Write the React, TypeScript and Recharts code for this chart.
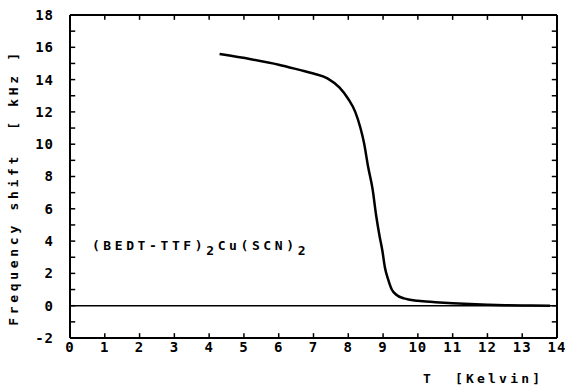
import React from 'react';
import { LineChart, Line, XAxis, YAxis, ReferenceLine, ReferenceDot, Label } from 'recharts';

const temperature = [4.3, 5.2, 6.0, 6.6, 7.0, 7.4, 7.75, 8.0, 8.2, 8.35, 8.45, 8.57, 8.7, 8.8, 8.9, 8.98, 9.05, 9.15, 9.25, 9.4, 9.6, 10.0, 10.5, 11.0, 11.5, 12.0, 12.5, 13.0, 13.8];
const shift = [15.58, 15.26, 14.92, 14.6, 14.38, 14.08, 13.5, 12.8, 12.0, 11.0, 10.1, 8.6, 7.2, 5.6, 4.3, 3.4, 2.4, 1.6, 1.0, 0.65, 0.45, 0.3, 0.22, 0.15, 0.1, 0.06, 0.03, 0.01, 0.0];

const xTicks = [0, 1, 2, 3, 4, 5, 6, 7, 8, 9, 10, 11, 12, 13, 14];
const yLabelTicks = [-2, 0, 2, 4, 6, 8, 10, 12, 14, 16, 18];
const yMinorTicks = [-2, -1, 0, 1, 2, 3, 4, 5, 6, 7, 8, 9, 10, 11, 12, 13, 14, 15, 16, 17, 18];

const X_MIN = 0;
const X_MAX = 14;
const Y_MIN = -2;
const Y_MAX = 18;

const data = temperature.map((t, i) => ({ t, v: shift[i] }));

// inward tick lengths expressed in data units
const X_TICK_LEN = 0.3;
const Y_TICK_LEN = 0.15;

const FONT = '"DejaVu Sans Mono", monospace';
const tickStyle = { fontFamily: FONT, fontSize: 14, fontWeight: 'bold', fill: '#000', letterSpacing: 1 };

const AnnotationLabel = (props: any) => {
  const { viewBox } = props;
  return (
    <text x={viewBox.x} y={viewBox.y} fontFamily={FONT} fontSize={13} fontWeight="bold" fill="#000" letterSpacing={3.6}>
      (BEDT-TTF)
      <tspan dy={5}>2</tspan>
      <tspan dy={-5}>Cu(SCN)</tspan>
      <tspan dy={5}>2</tspan>
    </text>
  );
};

const YTitle = (props: any) => {
  const { viewBox } = props;
  const cx = viewBox.x + 13;
  const cy = viewBox.y + viewBox.height / 2 + 11;
  return (
    <text
      x={cx}
      y={cy}
      transform={`rotate(-90 ${cx} ${cy})`}
      textAnchor="middle"
      dominantBaseline="central"
      fontFamily={FONT}
      fontSize={13}
      fontWeight="bold"
      fill="#000"
      letterSpacing={3.7}
      xmlSpace="preserve"
    >
      Frequency shift  [ kHz ]
    </text>
  );
};

const XTitle = (props: any) => {
  const { viewBox } = props;
  const right = viewBox.x + viewBox.width;
  const y = viewBox.y + viewBox.height - 6;
  return (
    <text y={y} fontFamily={FONT} fontSize={13} fontWeight="bold" fill="#000" letterSpacing={3.2}>
      <tspan x={right - 134}>T</tspan>
      <tspan x={right - 102}>[Kelvin]</tspan>
    </text>
  );
};

const tickLineStroke = { stroke: '#000', strokeWidth: 1.5 };
const axisLineStyle = { stroke: '#000', strokeWidth: 2 };

export default function App() {
  return (
    <div style={{ position: 'absolute', left: 0, top: 0, width: 565, height: 389, background: '#fff' }}>
      <LineChart width={565} height={389} data={data} margin={{ top: 15, right: 8, bottom: 0, left: 0 }}>
        <XAxis
          xAxisId="b"
          dataKey="t"
          type="number"
          domain={[X_MIN, X_MAX]}
          ticks={xTicks}
          orientation="bottom"
          height={51}
          tickLine={false}
          tickSize={4}
          axisLine={axisLineStyle}
          tick={tickStyle}
          tickMargin={0}
          interval={0}
          allowDataOverflow
        >
          <Label content={XTitle} />
        </XAxis>
        <YAxis
          yAxisId="l"
          type="number"
          domain={[Y_MIN, Y_MAX]}
          ticks={yLabelTicks}
          width={70}
          tickLine={false}
          axisLine={axisLineStyle}
          tick={tickStyle}
          tickMargin={10}
          interval={0}
          allowDataOverflow
        >
          <Label content={YTitle} />
        </YAxis>
        <ReferenceLine xAxisId="b" yAxisId="l" y={Y_MAX} stroke="#000" strokeWidth={2} />
        <ReferenceLine xAxisId="b" yAxisId="l" x={X_MAX} stroke="#000" strokeWidth={2} />
        {xTicks.map((t) => (
          <ReferenceLine
            key={`xb${t}`}
            xAxisId="b"
            yAxisId="l"
            segment={[{ x: t, y: Y_MIN }, { x: t, y: Y_MIN + X_TICK_LEN }]}
            {...tickLineStroke}
          />
        ))}
        {xTicks.map((t) => (
          <ReferenceLine
            key={`xt${t}`}
            xAxisId="b"
            yAxisId="l"
            segment={[{ x: t, y: Y_MAX }, { x: t, y: Y_MAX - X_TICK_LEN }]}
            {...tickLineStroke}
          />
        ))}
        {yMinorTicks.map((v) => (
          <ReferenceLine
            key={`yl${v}`}
            xAxisId="b"
            yAxisId="l"
            segment={[{ x: X_MIN, y: v }, { x: X_MIN + Y_TICK_LEN, y: v }]}
            {...tickLineStroke}
          />
        ))}
        {yMinorTicks.map((v) => (
          <ReferenceLine
            key={`yr${v}`}
            xAxisId="b"
            yAxisId="l"
            segment={[{ x: X_MAX, y: v }, { x: X_MAX - Y_TICK_LEN, y: v }]}
            {...tickLineStroke}
          />
        ))}
        <ReferenceLine xAxisId="b" yAxisId="l" y={0} stroke="#000" strokeWidth={1.5} />
        <ReferenceDot xAxisId="b" yAxisId="l" x={0.63} y={3.45} r={0} fill="none" stroke="none">
          <Label content={AnnotationLabel} />
        </ReferenceDot>
        <Line
          xAxisId="b"
          yAxisId="l"
          dataKey="v"
          type="monotone"
          stroke="#000"
          strokeWidth={2.5}
          dot={false}
          isAnimationActive={false}
        />
      </LineChart>
    </div>
  );
}
